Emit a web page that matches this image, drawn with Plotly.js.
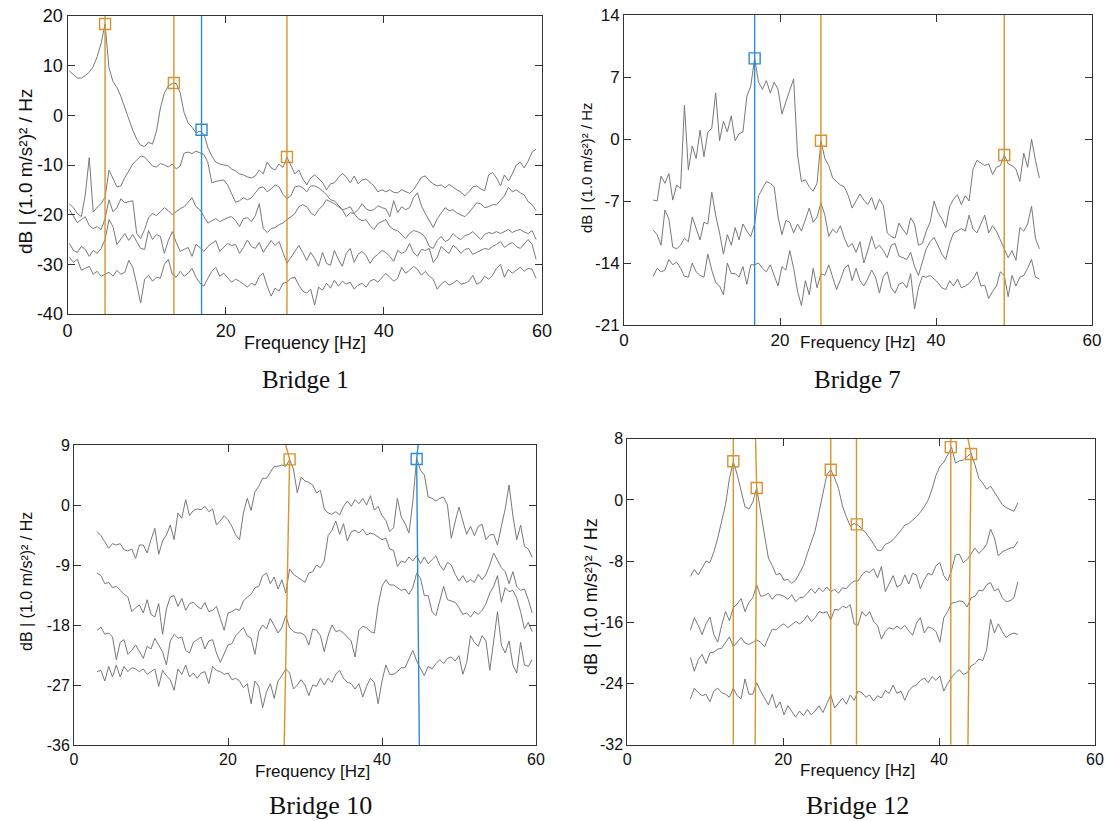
<!DOCTYPE html>
<html>
<head>
<meta charset="utf-8">
<script src="https://cdn.plot.ly/plotly-3.0.1.min.js"></script>
<style>html,body{margin:0;padding:0;background:#fff;}#chart{width:1105px;height:821px;}</style>
</head>
<body>
<div id="chart"></div>
<script>
// ---------------- DATA ----------------
const freqTicks = [0, 20, 40, 60];

// Bridge 1 : spectra sampled from 0.25 Hz every 0.5 Hz
const b1Start = 0.25, b1Step = 0.5;
const b1Ticks = [-40, -30, -20, -10, 0, 10, 20];
const b1LineA = [8.9,8.2,7.5,7.5,8.0,8.7,9.8,11.8,14.5,18.4,
 9.5,6.8,5.6,3.8,1.5,-0.8,-3.0,-4.8,-6.0,-6.3,
 -5.4,-5.8,-3.2,1.5,4.5,5.9,6.4,6.4,4.5,0.5,
 -1.5,-2.4,-3.5,-3.2,-3.8,-6.5,-8.2,-9.4,-9.8,-10.0,
 -10.1,-10.8,-11.2,-11.8,-12.0,-12.4,-12.6,-12.2,-11.0,-11.8,
 -9.4,-10.6,-11.0,-9.8,-10.5,-8.4,-10.2,-11.8,-11.0,-12.8,
 -14.0,-12.6,-12.0,-12.8,-13.5,-15.0,-13.8,-13.6,-12.5,-11.7,
 -12.4,-13.6,-12.2,-13.8,-13.0,-12.8,-13.5,-14.2,-15.4,-15.0,
 -15.4,-15.0,-15.5,-15.6,-15.0,-15.3,-15.7,-15.0,-13.8,-12.5,
 -12.2,-13.2,-13.8,-14.2,-14.0,-14.6,-13.9,-14.5,-15.0,-15.5,
 -16.2,-15.4,-14.4,-14.2,-14.8,-15.2,-12.0,-11.5,-12.6,-14.2,
 -12.0,-13.2,-11.8,-10.0,-9.4,-10.6,-9.2,-7.4,-6.8];
const b1LineB = [-17.8,-18.6,-19.8,-20.4,-16.0,-8.5,-19.5,-18.5,-17.8,-16.5,
 -11.0,-12.8,-14.4,-14.2,-12.5,-11.2,-9.8,-9.0,-8.2,-8.4,
 -9.2,-10.2,-10.4,-9.7,-10.0,-10.4,-9.8,-10.8,-10.2,-7.6,
 -7.4,-7.7,-7.2,-7.6,-7.9,-9.5,-13.6,-13.3,-13.2,-13.0,
 -14.0,-15.6,-17.5,-17.2,-16.6,-17.0,-16.6,-15.6,-14.6,-14.4,
 -15.4,-14.8,-14.0,-14.4,-15.9,-16.8,-16.2,-14.4,-14.2,-14.6,
 -15.4,-14.2,-14.2,-14.6,-15.2,-16.0,-17.0,-17.2,-18.0,-19.0,
 -20.4,-19.6,-19.8,-20.8,-21.2,-21.0,-22.2,-23.0,-21.8,-21.4,
 -21.0,-22.4,-23.0,-23.2,-24.0,-24.8,-23.8,-23.2,-23.4,-23.8,
 -24.6,-26.4,-26.8,-25.2,-24.4,-25.4,-25.0,-23.8,-24.6,-25.0,
 -24.2,-24.0,-23.4,-24.2,-25.0,-24.0,-23.6,-23.8,-23.4,-23.8,
 -23.4,-23.0,-23.6,-23.2,-23.0,-23.5,-23.8,-23.2,-25.0];
const b1LineC = [-19.0,-20.2,-21.6,-21.0,-20.4,-22.2,-22.8,-22.4,-23.0,-20.8,
 -17.0,-19.4,-18.6,-16.8,-17.6,-17.4,-17.2,-23.8,-24.8,-23.0,
 -20.6,-19.8,-20.2,-19.4,-18.6,-19.2,-20.0,-19.4,-18.8,-18.4,
 -17.6,-16.6,-18.4,-19.0,-20.4,-21.7,-21.2,-20.8,-21.4,-21.0,
 -20.6,-20.4,-21.2,-22.4,-20.8,-20.6,-21.4,-20.2,-17.8,-22.8,
 -23.6,-22.8,-22.6,-22.0,-21.7,-21.0,-20.4,-19.8,-18.4,-18.0,
 -18.4,-19.6,-20.2,-19.0,-18.2,-17.0,-17.4,-17.8,-18.4,-19.0,
 -18.8,-18.4,-19.7,-19.0,-17.8,-18.8,-19.2,-19.0,-18.2,-18.6,
 -18.8,-20.4,-17.2,-19.6,-18.4,-19.0,-18.6,-16.6,-15.6,-18.2,
 -19.8,-21.2,-22.6,-20.8,-19.7,-18.6,-19.2,-19.0,-19.7,-20.0,
 -20.4,-19.6,-18.6,-17.6,-17.8,-18.6,-18.4,-18.0,-18.0,-17.2,
 -16.2,-14.5,-15.4,-15.0,-15.6,-16.0,-17.4,-18.0,-19.2];
const b1LineD = [-25.8,-27.2,-27.6,-26.4,-27.0,-28.4,-27.2,-27.8,-26.8,-25.0,
 -21.0,-22.4,-26.0,-24.8,-23.8,-25.2,-24.0,-25.4,-26.8,-27.0,
 -23.2,-25.0,-24.0,-24.4,-27.8,-25.2,-23.4,-25.6,-27.4,-27.0,
 -26.6,-28.4,-26.0,-26.6,-27.4,-26.4,-25.8,-25.2,-27.4,-26.6,
 -25.8,-26.2,-26.0,-27.8,-26.6,-25.1,-26.4,-26.8,-25.6,-27.6,
 -26.4,-25.2,-26.2,-25.4,-27.6,-29.8,-28.6,-27.4,-26.2,-27.6,
 -29.2,-27.6,-28.8,-30.4,-27.6,-29.8,-30.2,-27.2,-29.0,-30.4,
 -27.8,-26.8,-29.6,-28.0,-27.4,-28.2,-29.8,-28.6,-28.0,-27.2,
 -27.6,-28.4,-29.4,-27.2,-27.8,-27.4,-25.8,-27.6,-28.4,-27.0,
 -27.2,-26.8,-29.6,-28.6,-26.4,-27.2,-27.8,-26.2,-26.8,-27.8,
 -27.0,-26.8,-28.0,-27.6,-27.2,-26.8,-27.0,-26.4,-26.0,-25.4,
 -26.6,-26.0,-25.6,-26.4,-26.8,-25.8,-25.0,-26.0,-29.0];
const b1LineE = [-28.6,-29.6,-29.0,-31.2,-30.8,-30.4,-32.0,-31.4,-32.4,-32.0,
 -31.6,-32.4,-31.2,-32.0,-31.6,-29.2,-30.6,-34.0,-37.8,-33.0,
 -32.2,-33.4,-32.6,-32.8,-30.0,-29.0,-32.0,-32.6,-31.4,-32.4,
 -31.8,-30.8,-32.6,-33.8,-34.4,-32.8,-31.4,-30.6,-32.4,-31.8,
 -32.6,-33.6,-33.0,-33.4,-34.0,-34.6,-33.8,-34.2,-32.4,-31.8,
 -34.4,-36.4,-34.8,-35.4,-33.8,-33.6,-32.8,-32.6,-34.2,-35.4,
 -35.8,-35.0,-38.2,-34.6,-35.2,-33.8,-34.8,-33.2,-34.4,-33.4,
 -34.0,-33.6,-35.0,-34.2,-33.8,-34.6,-33.4,-33.0,-33.6,-32.8,
 -31.8,-32.6,-33.4,-32.8,-30.6,-31.8,-31.2,-30.4,-31.0,-32.2,
 -31.4,-32.4,-33.0,-35.0,-34.0,-33.4,-34.2,-33.8,-33.2,-34.0,
 -33.8,-33.4,-32.2,-34.0,-33.6,-32.4,-33.0,-32.2,-30.8,-30.0,
 -32.6,-31.0,-31.8,-31.2,-30.6,-31.4,-30.8,-31.0,-32.8];
const b1OrangePeakHz = [4.75, 13.45, 27.75];
const b1OrangePeakDb = [18.4, 6.5, -8.4];
const b1BluePeakHz = [16.95];
const b1BluePeakDb = [-2.9];

// Bridge 7 : from 3.75 Hz every 0.5 Hz
const b7Start = 3.75, b7Step = 0.5;
const b7Ticks = [-21, -14, -7, 0, 7, 14];
const b7LineA = [-6.9,-7.0,-4.2,-5.0,-3.9,-6.9,-5.2,-5.6,3.8,-3.5,
 -0.8,-2.2,1.0,-2.0,0.8,1.2,5.2,-0.2,2.0,0.8,
 2.6,-0.2,0.6,0.8,4.8,6.0,9.1,6.4,5.6,6.6,
 5.2,6.4,5.6,2.8,4.2,5.4,6.8,-1.8,-4.8,-4.6,
 -5.4,-5.9,-5.0,-0.2,-2.2,-3.0,-4.4,-4.8,-5.2,-5.4,
 -6.4,-7.8,-7.0,-6.2,-6.9,-7.4,-6.6,-8.0,-6.8,-7.5,
 -10.6,-11.0,-11.2,-9.5,-10.2,-10.8,-8.9,-9.6,-12.0,-11.8,
 -10.4,-9.4,-7.0,-8.3,-9.0,-10.0,-7.6,-6.8,-6.3,-7.4,
 -6.4,-7.0,-3.4,-2.4,-2.7,-3.0,-2.8,-4.0,-3.2,-3.0,
 -1.8,-2.8,-3.0,-3.4,-4.8,-1.6,-3.2,0.0,-2.4,-4.4];
const b7LineB = [-10.3,-10.8,-12.0,-8.0,-9.0,-12.2,-12.4,-12.0,-11.2,-11.6,
 -8.8,-10.2,-11.4,-9.4,-9.6,-6.0,-8.6,-10.6,-13.0,-10.8,
 -12.0,-10.0,-11.4,-9.6,-10.4,-11.0,-9.6,-6.4,-5.6,-4.8,
 -5.0,-5.4,-8.8,-10.8,-9.2,-9.4,-10.6,-9.6,-10.4,-9.2,
 -7.8,-9.4,-8.8,-7.2,-8.6,-11.0,-10.2,-10.6,-9.8,-11.2,
 -12.2,-11.8,-12.8,-11.6,-14.0,-12.6,-11.0,-12.4,-12.0,-12.6,
 -13.4,-12.0,-11.8,-13.2,-13.4,-13.6,-12.8,-14.4,-15.4,-14.0,
 -12.4,-11.6,-11.1,-12.0,-13.0,-13.6,-11.8,-10.6,-10.4,-10.1,
 -10.4,-8.6,-10.2,-10.6,-9.6,-8.6,-10.6,-9.8,-10.4,-11.4,
 -12.2,-13.4,-12.6,-13.7,-10.0,-10.4,-9.6,-7.6,-11.2,-12.4];
const b7LineC = [-15.5,-14.6,-15.0,-14.8,-13.6,-14.2,-13.9,-14.6,-15.5,-15.6,
 -14.0,-15.0,-15.4,-15.6,-13.0,-14.8,-16.2,-16.6,-17.6,-14.0,
 -15.2,-15.2,-15.6,-14.4,-16.4,-14.2,-14.2,-14.0,-14.6,-15.0,
 -14.2,-15.4,-16.6,-14.4,-14.8,-12.6,-14.6,-17.2,-18.8,-16.0,
 -17.6,-14.6,-16.8,-15.2,-15.4,-14.2,-15.6,-17.0,-15.9,-14.6,
 -14.2,-16.0,-14.6,-16.0,-16.6,-15.8,-14.8,-15.6,-17.4,-15.5,
 -15.0,-16.8,-17.4,-16.4,-16.2,-16.8,-15.2,-19.2,-16.8,-15.5,
 -15.6,-15.4,-15.8,-16.2,-16.8,-17.0,-16.0,-16.6,-15.8,-16.8,
 -16.6,-16.3,-15.8,-15.0,-16.6,-16.5,-18.0,-17.2,-16.6,-15.0,
 -15.4,-17.8,-15.4,-16.6,-15.6,-15.4,-14.6,-13.6,-15.6,-15.8];
const b7OrangePeakHz = [25.25, 48.75];
const b7OrangePeakDb = [-0.2, -1.8];
const b7BluePeakHz = [16.75];
const b7BluePeakDb = [9.1];

// Bridge 10 : from 3.0 Hz every 0.5 Hz
const b10Start = 3.0, b10Step = 0.5;
const b10Ticks = [-36, -27, -18, -9, 0, 9];
const b10LineA = [-4.0,-4.6,-5.5,-6.5,-5.8,-6.0,-5.8,-6.7,-6.9,-6.6,
 -8.0,-6.0,-6.0,-7.2,-5.2,-3.5,-7.4,-5.4,-4.5,-3.0,
 -5.2,-1.2,-2.0,0.8,-1.6,-0.8,-0.6,-0.7,-0.2,-1.0,
 -0.6,-3.0,-2.4,-1.6,-2.2,-3.2,-4.5,-5.2,-1.2,1.0,
 -0.8,2.0,2.8,4.0,4.0,5.0,5.8,5.8,6.0,5.8,
 6.8,5.4,1.8,4.2,3.6,3.4,3.0,1.8,2.2,-0.6,
 -1.2,-1.4,-1.0,-1.5,-0.2,0.6,-0.2,0.8,0.2,1.0,
 0.0,1.4,-0.8,-0.2,-1.6,-2.3,-4.0,-3.4,1.0,-1.8,
 -2.8,-4.2,0.5,7.0,5.2,4.5,1.2,1.0,0.6,1.0,
 1.2,0.0,-5.0,-2.5,-0.3,-2.4,-4.4,-3.2,-4.6,-3.2,
 -2.9,-5.2,-4.5,-4.4,-6.0,-3.2,-0.6,3.0,-1.6,-5.2,
 -3.0,-6.2,-6.6,-7.8];
const b10LineB = [-10.2,-10.6,-11.8,-11.6,-12.4,-12.2,-12.8,-13.4,-13.8,-16.0,
 -15.4,-15.0,-16.2,-14.2,-16.4,-16.8,-14.8,-19.4,-15.6,-13.8,
 -13.6,-15.2,-14.0,-15.8,-14.8,-14.6,-15.2,-15.6,-14.6,-16.0,
 -15.8,-15.2,-17.0,-18.8,-16.2,-16.0,-15.6,-15.8,-14.4,-13.8,
 -13.4,-12.4,-12.2,-10.6,-10.2,-11.8,-10.8,-12.6,-11.2,-13.2,
 -9.6,-10.4,-10.8,-11.2,-11.6,-10.2,-10.0,-9.0,-9.4,-8.4,
 -4.6,-3.8,-2.4,-4.4,-2.8,-5.4,-4.0,-3.8,-4.2,-3.6,
 -4.5,-4.2,-4.4,-4.8,-5.2,-5.0,-6.6,-6.8,-9.2,-8.4,
 -8.6,-7.8,-8.4,-7.6,-8.8,-7.8,-8.8,-8.2,-7.6,-9.0,
 -9.8,-8.6,-9.0,-10.4,-11.4,-10.6,-11.6,-11.2,-11.6,-10.4,
 -11.2,-10.4,-9.0,-7.2,-8.2,-9.4,-10.0,-11.8,-10.0,-12.2,
 -12.8,-12.6,-14.2,-16.2];
const b10LineC = [-18.8,-18.3,-19.4,-19.2,-19.8,-23.2,-20.6,-20.2,-22.4,-21.8,
 -21.0,-22.0,-23.0,-21.2,-21.6,-20.0,-21.0,-22.0,-24.0,-20.4,
 -19.4,-20.0,-19.8,-21.8,-22.2,-20.6,-20.2,-19.8,-21.6,-20.4,
 -20.2,-22.2,-23.6,-22.2,-21.0,-20.8,-19.6,-19.0,-18.4,-19.6,
 -20.0,-22.4,-19.0,-18.0,-18.6,-17.0,-18.2,-19.2,-18.4,-16.6,
 -18.4,-19.0,-19.2,-19.2,-19.6,-21.0,-18.6,-18.8,-19.6,-22.0,
 -19.6,-18.0,-19.0,-18.8,-19.2,-19.8,-20.4,-22.8,-18.8,-18.2,
 -18.4,-19.0,-19.2,-15.0,-12.2,-11.2,-12.0,-12.0,-12.4,-12.8,
 -12.6,-13.4,-12.4,-10.2,-11.0,-13.6,-13.6,-16.0,-16.6,-14.6,
 -12.2,-14.2,-14.4,-14.6,-15.4,-16.4,-16.2,-16.8,-16.0,-16.4,
 -15.8,-14.8,-13.2,-12.2,-10.6,-14.6,-12.4,-13.0,-12.8,-14.0,
 -16.0,-18.6,-17.6,-19.0];
const b10LineD = [-25.0,-24.8,-26.4,-24.2,-25.8,-24.0,-25.8,-24.2,-25.0,-24.4,
 -24.6,-25.0,-24.6,-25.4,-25.0,-24.6,-27.2,-24.8,-25.6,-26.2,
 -27.8,-24.6,-25.4,-24.0,-25.8,-25.2,-26.0,-25.2,-25.0,-26.8,
 -24.2,-24.8,-25.0,-25.4,-25.2,-26.2,-26.0,-26.4,-27.4,-26.8,
 -29.8,-26.4,-27.2,-30.4,-28.0,-26.8,-29.0,-26.4,-25.6,-24.6,
 -25.2,-27.6,-27.0,-26.2,-27.0,-28.6,-27.0,-27.2,-26.0,-27.0,
 -26.0,-26.6,-25.4,-24.8,-26.0,-26.6,-26.8,-27.6,-26.8,-28.8,
 -27.2,-26.0,-26.6,-29.8,-26.4,-24.0,-25.4,-25.4,-25.0,-24.4,
 -24.4,-23.2,-21.8,-23.4,-24.6,-25.6,-24.2,-24.6,-23.8,-23.2,
 -23.8,-23.0,-22.8,-23.4,-22.6,-25.4,-23.6,-19.6,-20.6,-21.2,
 -19.6,-20.4,-24.8,-20.4,-16.0,-21.0,-22.2,-20.4,-24.0,-25.2,
 -20.6,-24.0,-24.2,-23.2];
const b10OrangePeakHz = [28.0], b10OrangePeakDb = [6.85];
const b10OrangeFootHz = [27.3], b10OrangeHeadHz = [27.5];
const b10BluePeakHz = [44.5], b10BluePeakDb = [6.9];
const b10BlueFootHz = [44.85], b10BlueHeadHz = [44.7];

// Bridge 12 : from 8.1 Hz every 0.5 Hz
const b12Start = 8.1, b12Step = 0.5;
const b12Ticks = [-32, -24, -16, -8, 0, 8];
const b12LineA = [-10.0,-9.1,-9.8,-8.9,-8.0,-8.2,-6.8,-5.0,-2.8,-0.6,
 2.8,5.0,3.3,1.2,-0.9,-1.2,-0.3,1.55,-1.6,-5.0,
 -7.6,-8.6,-9.8,-9.6,-10.5,-10.4,-10.9,-10.5,-9.6,-8.6,
 -7.0,-5.4,-4.0,-1.6,1.1,3.3,3.95,2.85,1.5,-0.8,
 -2.2,-3.4,-3.1,-3.3,-3.8,-4.3,-5.0,-5.8,-6.6,-6.6,
 -5.8,-5.6,-5.2,-4.6,-3.9,-3.3,-3.1,-2.7,-2.2,-1.6,
 -0.9,0.0,1.4,3.2,4.4,4.9,6.0,6.9,4.8,5.1,
 5.2,5.6,6.1,4.6,2.8,2.2,1.4,1.8,1.0,0.1,
 -0.6,-1.0,-1.2,-1.5,-0.4];
const b12LineB = [-17.0,-15.4,-16.4,-17.6,-16.2,-15.3,-17.6,-18.6,-16.4,-14.6,
 -15.8,-14.1,-13.6,-12.9,-14.6,-13.4,-12.8,-11.1,-12.6,-12.5,
 -12.2,-13.0,-12.4,-12.4,-12.6,-13.0,-12.4,-13.3,-12.8,-12.7,
 -12.2,-11.6,-12.2,-11.5,-12.0,-11.4,-12.0,-11.7,-12.2,-11.5,
 -11.6,-11.0,-10.6,-10.6,-9.8,-9.3,-9.5,-9.0,-10.2,-8.7,
 -12.0,-11.0,-9.9,-11.4,-11.1,-9.8,-11.0,-9.6,-9.8,-11.6,
 -10.4,-9.6,-9.8,-8.6,-8.2,-9.9,-10.6,-9.2,-7.2,-7.1,
 -8.2,-7.8,-7.0,-6.3,-7.0,-6.5,-5.8,-3.8,-5.0,-7.3,
 -6.8,-6.5,-6.3,-6.2,-5.4];
const b12LineC = [-20.6,-22.4,-20.9,-20.2,-21.4,-20.0,-19.9,-19.5,-19.4,-18.6,
 -17.9,-19.2,-18.6,-18.0,-18.7,-18.9,-18.6,-18.3,-18.6,-19.2,
 -18.0,-16.9,-17.0,-16.5,-16.2,-16.7,-16.3,-15.9,-16.2,-15.8,
 -15.1,-15.9,-15.4,-14.6,-14.8,-14.6,-15.7,-14.3,-14.4,-13.9,
 -14.1,-13.7,-16.2,-16.4,-14.6,-15.2,-14.6,-15.9,-16.4,-18.2,
 -17.2,-16.7,-16.9,-16.5,-16.9,-16.4,-17.1,-17.7,-16.1,-15.4,
 -17.4,-16.6,-16.8,-17.2,-18.6,-15.4,-14.6,-13.5,-13.4,-13.2,
 -13.3,-14.0,-12.8,-12.6,-11.8,-11.9,-11.1,-10.8,-11.9,-11.6,
 -12.8,-13.3,-13.2,-12.8,-10.7];
const b12LineD = [-26.0,-24.6,-25.2,-25.6,-25.4,-26.4,-25.0,-24.6,-25.2,-25.4,
 -25.8,-24.6,-25.6,-26.0,-23.4,-25.4,-25.4,-23.9,-25.0,-26.0,
 -26.8,-25.4,-27.2,-26.4,-28.1,-26.9,-27.6,-28.4,-27.6,-28.2,
 -27.4,-28.1,-27.6,-26.9,-27.8,-26.6,-25.5,-27.2,-26.5,-25.9,
 -26.7,-25.5,-26.2,-25.0,-25.2,-25.8,-25.5,-26.3,-25.6,-25.9,
 -24.9,-25.3,-24.2,-25.3,-25.0,-26.2,-25.0,-24.4,-24.2,-23.6,
 -23.3,-23.9,-23.1,-23.6,-23.0,-25.0,-24.0,-23.2,-22.6,-22.2,
 -22.8,-22.6,-21.7,-21.4,-20.8,-21.0,-19.6,-15.6,-17.4,-16.2,
 -17.2,-18.0,-17.6,-17.4,-17.6];
const b12OrangePeakHz = [13.6, 16.6, 26.1, 29.45, 41.5, 44.1];
const b12OrangePeakDb = [5.05, 1.55, 3.95, -3.2, 6.9, 6.0];
const b12OrangeFootHz = [13.6, 16.4, 26.1, 29.4, 41.5, 43.7];
const b12OrangeHeadHz = [13.6, 16.45, 26.1, 29.4, 41.5, 43.7];

// ---------------- STYLE / LAYOUT ----------------
const GRAY = '#787878', ORANGE = '#D6942C', BLUE = '#2A8DD4';
const SANS = 'Liberation Sans, Arial, sans-serif';
const SERIF = 'Liberation Serif, Times New Roman, serif';

const panels = [
  {ax:'', start:b1Start, step:b1Step, lines:[b1LineA,b1LineB,b1LineC,b1LineD,b1LineE], yr:[-40,20], yt:b1Ticks,
   dx:[67.5,542], dy:[16,314], fs:18,
   peaks:[{hz:b1OrangePeakHz, db:b1OrangePeakDb, foot:b1OrangePeakHz, head:b1OrangePeakHz, c:ORANGE},
          {hz:b1BluePeakHz, db:b1BluePeakDb, foot:b1BluePeakHz, head:b1BluePeakHz, c:BLUE}],
   xt:{x:305,y:343,s:18}, yl:{x:25,y:172,s:19}, cap:{t:'Bridge 1',x:305,y:380,s:25}},
  {ax:'2', start:b7Start, step:b7Step, lines:[b7LineA,b7LineB,b7LineC], yr:[-21,14], yt:b7Ticks,
   dx:[624,1092], dy:[15,325], fs:17,
   peaks:[{hz:b7OrangePeakHz, db:b7OrangePeakDb, foot:b7OrangePeakHz, head:b7OrangePeakHz, c:ORANGE},
          {hz:b7BluePeakHz, db:b7BluePeakDb, foot:b7BluePeakHz, head:b7BluePeakHz, c:BLUE}],
   xt:{x:857,y:343,s:17}, yl:{x:587,y:168,s:15}, cap:{t:'Bridge 7',x:857,y:380,s:25}},
  {ax:'3', start:b10Start, step:b10Step, lines:[b10LineA,b10LineB,b10LineC,b10LineD], yr:[-36,9], yt:b10Ticks,
   dx:[74,536], dy:[445,745], fs:16,
   peaks:[{hz:b10OrangePeakHz, db:b10OrangePeakDb, foot:b10OrangeFootHz, head:b10OrangeHeadHz, c:ORANGE},
          {hz:b10BluePeakHz, db:b10BluePeakDb, foot:b10BlueFootHz, head:b10BlueHeadHz, c:BLUE}],
   xt:{x:312,y:771,s:17}, yl:{x:26,y:582,s:16}, cap:{t:'Bridge 10',x:320,y:805,s:26}},
  {ax:'4', start:b12Start, step:b12Step, lines:[b12LineA,b12LineB,b12LineC,b12LineD], yr:[-32,8], yt:b12Ticks,
   dx:[627.3,1095], dy:[438.7,744.7], fs:16,
   peaks:[{hz:b12OrangePeakHz, db:b12OrangePeakDb, foot:b12OrangeFootHz, head:b12OrangeHeadHz, c:ORANGE}],
   xt:{x:857,y:770,s:17}, yl:{x:591,y:597,s:18}, cap:{t:'Bridge 12',x:857,y:805,s:26}}
];

const W = 1105, H = 821;
const traces = [], annotations = [];
const layout = {width:W, height:H, margin:{l:0,r:0,t:0,b:0}, paper_bgcolor:'#fff', plot_bgcolor:'#fff',
  showlegend:false, annotations:annotations};

panels.forEach(p => {
  const xa = 'x'+p.ax, ya = 'y'+p.ax;
  p.lines.forEach(vals => {
    traces.push({type:'scatter', mode:'lines', x0:p.start, dx:p.step, y:vals, xaxis:xa, yaxis:ya,
      line:{color:GRAY, width:1}, hoverinfo:'skip'});
  });
  p.peaks.forEach(pk => {
    pk.hz.forEach((f,i) => {
      traces.push({type:'scatter', mode:'lines', x:[pk.foot[i], f, pk.head[i]], y:[p.yr[0], pk.db[i], p.yr[1]],
        xaxis:xa, yaxis:ya, line:{color:pk.c, width:1.4}, hoverinfo:'skip'});
    });
    traces.push({type:'scatter', mode:'markers', x:pk.hz, y:pk.db, xaxis:xa, yaxis:ya, cliponaxis:false,
      marker:{symbol:'square-open', size:11, color:pk.c, line:{width:1.4, color:pk.c}}, hoverinfo:'skip'});
  });
  const common = {showline:true, linecolor:'#333', linewidth:1, mirror:'ticks', ticks:'inside', ticklen:7,
    tickwidth:1, tickcolor:'#333', showgrid:false, zeroline:false, fixedrange:true,
    tickfont:{family:SANS, size:p.fs, color:'#111'}};
  layout['xaxis'+p.ax] = Object.assign({}, common, {domain:[p.dx[0]/W, p.dx[1]/W], range:[0,60],
    tickmode:'array', tickvals:freqTicks, ticktext:freqTicks.map(String), anchor:ya});
  layout['yaxis'+p.ax] = Object.assign({}, common, {domain:[1-p.dy[1]/H, 1-p.dy[0]/H], range:p.yr,
    tickmode:'array', tickvals:p.yt, ticktext:p.yt.map(String), anchor:xa});
  annotations.push({text:'Frequency [Hz]', xref:'paper', yref:'paper', x:p.xt.x/W, y:1-p.xt.y/H,
    xanchor:'center', yanchor:'middle', showarrow:false, font:{family:SANS, size:p.xt.s, color:'#111'}});
  annotations.push({text:'dB | (1.0 m/s²)² / Hz', xref:'paper', yref:'paper', x:p.yl.x/W, y:1-p.yl.y/H,
    xanchor:'center', yanchor:'middle', textangle:-90, showarrow:false, font:{family:SANS, size:p.yl.s, color:'#111'}});
  annotations.push({text:p.cap.t, xref:'paper', yref:'paper', x:p.cap.x/W, y:1-p.cap.y/H,
    xanchor:'center', yanchor:'middle', showarrow:false, font:{family:SERIF, size:p.cap.s, color:'#111'}});
});

Plotly.newPlot('chart', traces, layout, {displayModeBar:false, staticPlot:true});
</script>
</body>
</html>
